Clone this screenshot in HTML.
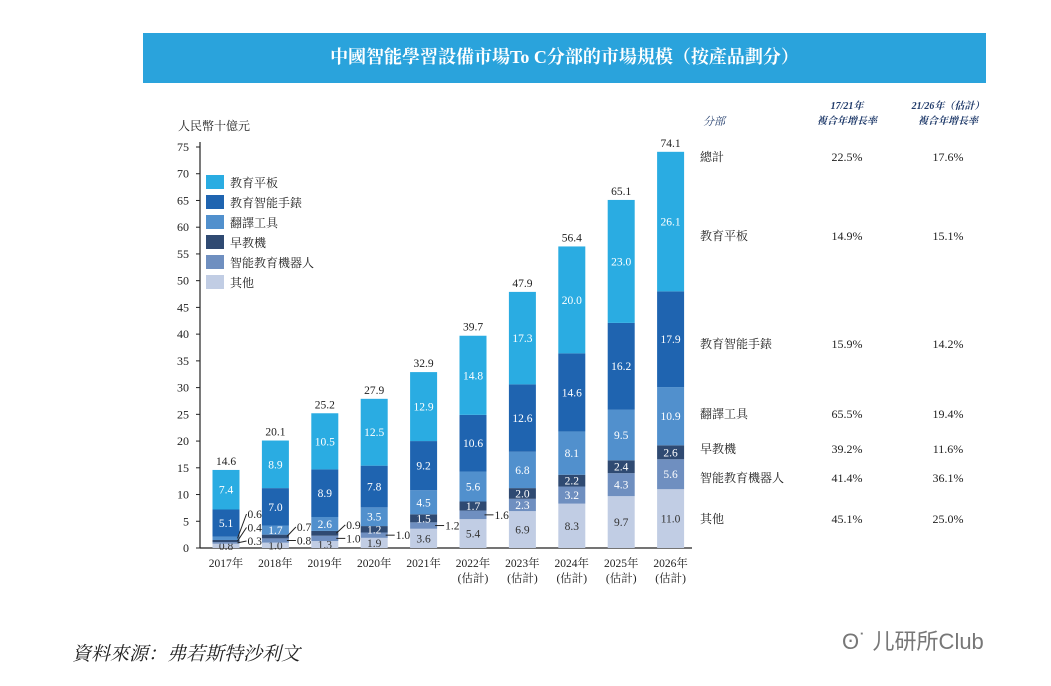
<!DOCTYPE html>
<html><head><meta charset="utf-8"><style>
body{margin:0;background:#fff;width:1051px;height:686px;overflow:hidden;position:relative;font-family:"Liberation Serif","Noto Serif CJK SC",serif;}
.t{position:absolute;white-space:nowrap;}
</style></head><body>
<div style="position:absolute;left:143px;top:33px;width:843px;height:50px;background:#2aa3dc;"></div>
<div class="t" style="left:143px;top:33px;width:843px;line-height:48px;text-align:center;color:#fff;font-weight:bold;font-size:18px;">中國智能學習設備市場To C分部的市場規模（按產品劃分）</div>
<svg id="chart" width="1051" height="686" style="position:absolute;left:0;top:0;font-family:'Liberation Serif','Noto Serif CJK SC',serif;"></svg>
<div class="t" style="left:72px;top:639px;font-size:19px;font-style:italic;color:#222;">資料來源：弗若斯特沙利文</div>
<div class="t" style="left:842px;top:624px;font-size:22px;color:#777;font-family:'Liberation Sans','Noto Sans CJK SC',sans-serif;">ʘ˙ 儿研所Club</div>
<script>
const years=['2017年','2018年','2019年','2020年','2021年','2022年','2023年','2024年','2025年','2026年'];
const estimated=[false,false,false,false,false,true,true,true,true,true];
const seriesNames=['其他','智能教育機器人','早教機','翻譯工具','教育智能手錶','教育平板'];
const other=[0.8,1.0,1.3,1.9,3.6,5.4,6.9,8.3,9.7,11.0];
const robot=[0.3,0.8,1.0,1.0,1.2,1.6,2.3,3.2,4.3,5.6];
const early=[0.4,0.7,0.9,1.2,1.5,1.7,2.0,2.2,2.4,2.6];
const trans=[0.6,1.7,2.6,3.5,4.5,5.6,6.8,8.1,9.5,10.9];
const watch=[5.1,7.0,8.9,7.8,9.2,10.6,12.6,14.6,16.2,17.9];
const tablet=[7.4,8.9,10.5,12.5,12.9,14.8,17.3,20.0,23.0,26.1];
const totals=[14.6,20.1,25.2,27.9,32.9,39.7,47.9,56.4,65.1,74.1];
const yTicks=[0,5,10,15,20,25,30,35,40,45,50,55,60,65,70,75];
const tableRows=['總計','教育平板','教育智能手錶','翻譯工具','早教機','智能教育機器人','其他'];
const cagr1721=['22.5%','14.9%','15.9%','65.5%','39.2%','41.4%','45.1%'];
const cagr2126=['17.6%','15.1%','14.2%','19.4%','11.6%','36.1%','25.0%'];
const rowY=[157,236,344,414,449,478,519];
const series=[other,robot,early,trans,watch,tablet];
const colors=['#c1cde4','#6f8fc0','#2f4a72','#5190cd','#1f64b0','#2aace2'];
const svg=document.getElementById('chart');const NS='http://www.w3.org/2000/svg';
function el(t,a,txt){const e=document.createElementNS(NS,t);for(const k in a)e.setAttribute(k,a[k]);if(txt!=null)e.textContent=txt;svg.appendChild(e);return e;}
const y0=548,yTop=147,vmax=75;
const Y=v=>y0-(v/vmax)*(y0-yTop);
const X=i=>226+i*49.4;const bw=27;
let a=el('line',{x1:200,y1:yTop-5,x2:200,y2:y0,stroke:'#222','stroke-width':1.2});

a=el('line',{x1:200,y1:y0,x2:692,y2:y0,stroke:'#222','stroke-width':1.2});

let u=el('text',{x:178,y:130,'font-size':12,fill:'#222'},'人民幣十億元');

yTicks.forEach(v=>{const l=el('line',{x1:196,y1:Y(v),x2:200,y2:Y(v),stroke:'#222'});

const t=el('text',{x:189,y:Y(v)+4,'font-size':12,'text-anchor':'end',fill:'#222'},String(v));
});
const allOuts=[];
years.forEach((yr,i)=>{
 const cx=X(i);let cum=0;
 series.forEach((s,k)=>{const v=s[i];const yb=Y(cum),yt=Y(cum+v);
  const r=el('rect',{x:cx-bw/2,y:yt,width:bw,height:yb-yt,fill:colors[k]});
  
  const mid=(yb+yt)/2;
  const outside=k>0&&((k===1&&v<2)||v<1);
  if(outside){allOuts.push({i,v,mid});}
  else{const lt=el('text',{x:cx,y:mid+4,'font-size':11.5,'text-anchor':'middle',fill:k===0?'#333':'#fff'},v.toFixed(1));
   }
  cum+=v;});
 const tt=el('text',{x:cx,y:Y(totals[i])-5,'font-size':11.5,'text-anchor':'middle',fill:'#222'},totals[i].toFixed(1));
 
 const xl=el('text',{x:cx,y:567,'font-size':11.5,'text-anchor':'middle',fill:'#222'},yr);
 
 if(estimated[i]){const e2=el('text',{x:cx,y:582,'font-size':11.5,'text-anchor':'middle',fill:'#222'},'(估計)');
 }
});
let prev=null,prevI=-1;
allOuts.forEach(o=>{const cx=X(o.i);if(o.i!==prevI){prev=null;prevI=o.i;}
  let ly=Math.min(o.mid,y0-7);if(prev!==null&&ly>prev-13.5)ly=prev-13.5;prev=ly;
  const ln=el('line',{x1:cx+bw/2-2,y1:o.mid,x2:cx+bw/2+7,y2:ly,stroke:'#222','stroke-width':1});
  
  const lt=el('text',{x:cx+bw/2+8,y:ly+4,'font-size':11.5,fill:'#222'},o.v.toFixed(1));
  });
const legOrder=[5,4,3,2,1,0];
legOrder.forEach((k,j)=>{const ly=175+j*20;
 const r=el('rect',{x:206,y:ly,width:18,height:14,fill:colors[k]});
 
 const t=el('text',{x:230,y:ly+12,'font-size':12,fill:'#222'},seriesNames[k]);
 });
let h=el('text',{x:703,y:125,'font-size':11,'font-style':'italic',fill:'#1f3a6a'},'分部');

[['17/21年',847],['21/26年（估計）',948]].forEach(([s,x])=>{
 const a1=el('text',{x:x,y:109,'font-size':10,'font-style':'italic','font-weight':'bold','text-anchor':'middle',fill:'#1f3a6a'},s);
 
 const a2=el('text',{x:x,y:124,'font-size':10,'font-style':'italic','font-weight':'bold','text-anchor':'middle',fill:'#1f3a6a'},'複合年增長率');
 });
tableRows.forEach((r,i)=>{
 const t=el('text',{x:700,y:rowY[i]+4,'font-size':12,fill:'#222'},r);
 
 const c1=el('text',{x:847,y:rowY[i]+4,'font-size':12,'text-anchor':'middle',fill:'#222'},cagr1721[i]);
 
 const c2=el('text',{x:948,y:rowY[i]+4,'font-size':12,'text-anchor':'middle',fill:'#222'},cagr2126[i]);
 });
</script>
</body></html>
